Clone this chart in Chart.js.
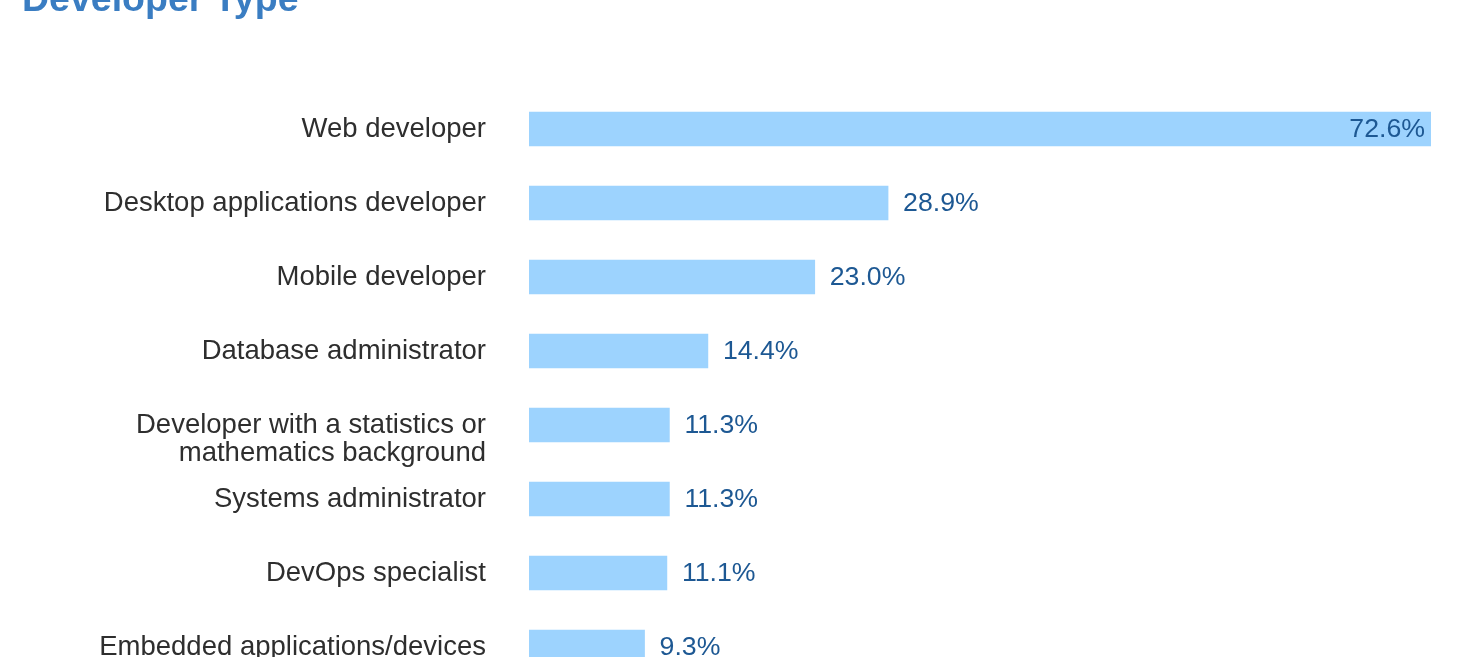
<!DOCTYPE html>
<html>
<head>
<meta charset="utf-8">
<script src="https://cdn.jsdelivr.net/npm/chart.js@4/dist/chart.umd.min.js"></script>
<style>
  html, body { margin: 0; padding: 0; background: #fff; overflow: hidden; }
  #wrap { position: absolute; left: 0; top: -30px; width: 1460px; height: 720px; }
</style>
</head>
<body>
<div id="wrap"><canvas id="chart"></canvas></div>
<script>
const TITLE = "Developer Type";
const categories = [
  "Web developer",
  "Desktop applications developer",
  "Mobile developer",
  "Database administrator",
  ["", "Developer with a statistics or", "mathematics background"],
  "Systems administrator",
  "DevOps specialist",
  ["", "Embedded applications/devices", "developer"],
];
const shares = [72.6, 28.9, 23.0, 14.4, 11.3, 11.3, 11.1, 9.3];

const BAR_COLOR = "#9dd3fe";
const LABEL_COLOR = "#2e2e2e";
const VALUE_COLOR = "#1d5893";
const TITLE_COLOR = "#3a7dc2";
const FONT_FAMILY = "'Liberation Sans', Arial, Helvetica, sans-serif";

// draws the percentage next to (or inside) each bar
const valueLabels = {
  id: "valueLabels",
  afterDatasetsDraw(chart) {
    const { ctx } = chart;
    const meta = chart.getDatasetMeta(0);
    const max = Math.max(...shares);
    ctx.save();
    ctx.font = "26.7px " + FONT_FAMILY;
    ctx.fillStyle = VALUE_COLOR;
    ctx.textBaseline = "middle";
    meta.data.forEach((bar, i) => {
      const text = shares[i].toFixed(1) + "%";
      if (shares[i] === max) {
        ctx.textAlign = "right";
        ctx.fillText(text, bar.x - 6, bar.y + 1);
      } else {
        ctx.textAlign = "left";
        ctx.fillText(text, bar.x + 15, bar.y + 1);
      }
    });
    ctx.restore();
  },
};

new Chart(document.getElementById("chart"), {
  type: "bar",
  data: {
    labels: categories,
    datasets: [{
      data: shares,
      backgroundColor: BAR_COLOR,
      borderWidth: 0,
      barThickness: 34,
    }],
  },
  options: {
    indexAxis: "y",
    responsive: true,
    maintainAspectRatio: false,
    animation: false,
    layout: { padding: { left: 22, right: 29, top: 0, bottom: 6 } },
    scales: {
      x: { display: false, min: 0, max: 72.6 },
      y: {
        border: { display: false },
        grid: { display: false, drawTicks: false },
        ticks: {
          autoSkip: false,
          color: LABEL_COLOR,
          padding: 43,
          font: { size: 27.5, family: FONT_FAMILY, lineHeight: 1.03 },
        },
        afterFit(scale) {
          scale.width = 507;
          scale.paddingTop = 0;
          scale.paddingBottom = 0;
        },
      },
    },
    plugins: {
      legend: { display: false },
      tooltip: { enabled: false },
      title: {
        display: true,
        text: TITLE,
        align: "start",
        color: TITLE_COLOR,
        font: { size: 37.5, weight: "bold", family: FONT_FAMILY, lineHeight: 1.2 },
        padding: { top: 8, bottom: 69 },
      },
    },
  },
  plugins: [valueLabels],
});
</script>
</body>
</html>
